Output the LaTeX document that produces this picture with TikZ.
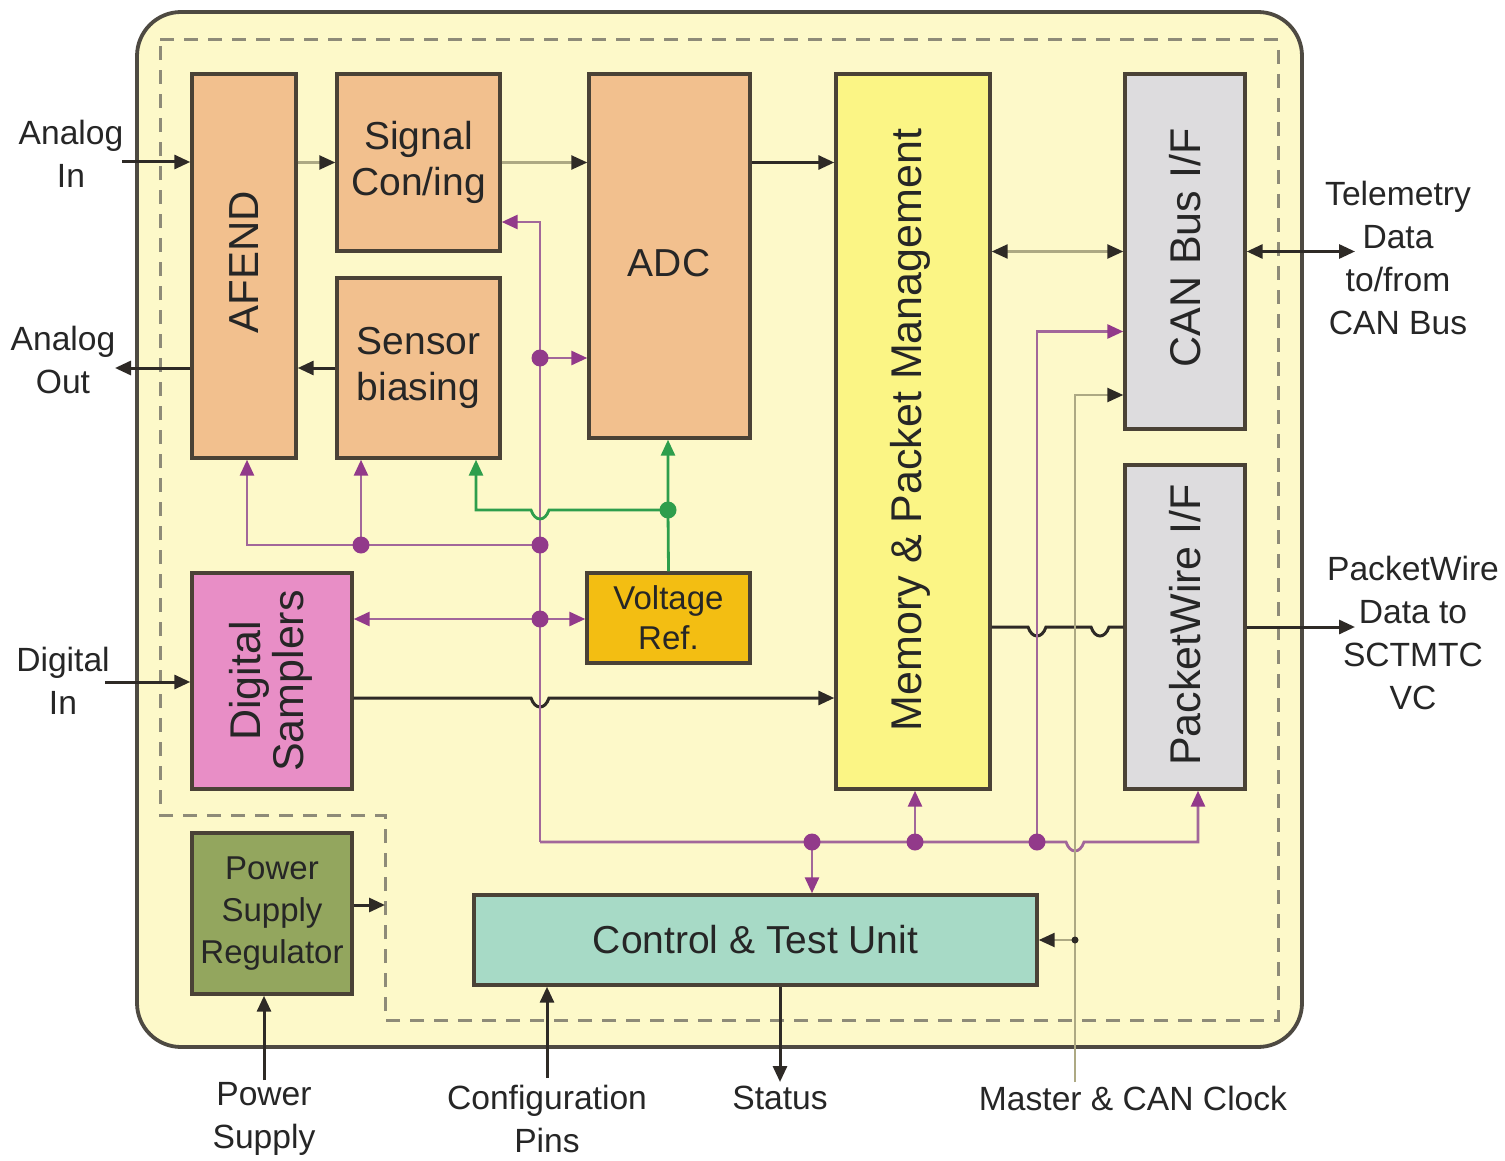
\documentclass[tikz,border=0pt]{standalone}
\usepackage{fontspec}
\setmainfont{Liberation Sans}
\usetikzlibrary{arrows.meta}
\definecolor{bgY}{HTML}{FDF9C9}
\definecolor{outln}{HTML}{4E4A42}
\definecolor{dashln}{HTML}{8E8B78}
\definecolor{boxln}{HTML}{4A4236}
\definecolor{peach}{HTML}{F2C08E}
\definecolor{memY}{HTML}{FBF585}
\definecolor{greyB}{HTML}{DDDCDE}
\definecolor{pinkB}{HTML}{E88EC6}
\definecolor{vrefO}{HTML}{F3BE12}
\definecolor{oliveB}{HTML}{93A65E}
\definecolor{mintB}{HTML}{A7DAC6}
\definecolor{txt}{HTML}{262626}
\definecolor{dkln}{HTML}{2E2A26}
\definecolor{olln}{HTML}{ADA983}
\definecolor{puln}{HTML}{A2679A}
\definecolor{puD}{HTML}{923A8A}
\definecolor{grn}{HTML}{2E9E4C}
\begin{document}
\begin{tikzpicture}[x=0.5pt,y=-0.5pt,
  box/.style={draw=boxln, line width=1.7pt, inner sep=0pt, align=center, text=txt,
    font=\fontsize{19.5pt}{23pt}\selectfont},
  rtxt/.style={rotate=90, text=txt, align=center, inner sep=0pt,
    font=\fontsize{21.5pt}{21.5pt}\selectfont},
  lab/.style={text=txt, align=center, inner sep=0pt, font=\fontsize{16.8pt}{21.5pt}\selectfont},
  dk/.style={draw=dkln, line width=1.5pt},
  ol/.style={draw=olln, line width=1.2pt},
  pu/.style={draw=puln, line width=1.4pt},
  gr/.style={draw=grn, line width=1.4pt},
  darr/.style={-{Triangle[length=8pt,width=7pt,color=dkln]}},
  ddarr/.style={{Triangle[length=8pt,width=7pt,color=dkln]}-{Triangle[length=8pt,width=7pt,color=dkln]}},
  parr/.style={-{Triangle[length=8pt,width=7pt,color=puD]}},
  garr/.style={-{Triangle[length=8pt,width=7pt,color=grn]}},
  pdot/.style={circle, fill=puD, inner sep=0pt, minimum size=8.5pt},
  gdot/.style={circle, fill=grn, inner sep=0pt, minimum size=8.5pt},
  kdot/.style={circle, fill=dkln, inner sep=0pt, minimum size=3.5pt}]
\useasboundingbox (0,0) rectangle (1505,1161);
\fill[white] (0,0) rectangle (1505,1161);
% chip outline
\draw[draw=outln, line width=1.9pt, fill=bgY, rounded corners=22pt] (137,12) rectangle (1302,1047);
\draw[dashln, line width=1.5pt, dash pattern=on 7pt off 5pt]
  (160,40) -- (1278,40) -- (1278,1020) -- (385,1020) -- (385,815) -- (160,815) -- cycle;
% boxes
\node[box, fill=peach, minimum width=52pt, minimum height=192pt] (afend) at (244,266) {};
\node[rtxt, font=\fontsize{21pt}{21pt}\selectfont] (tafend) at (244,262) {AFEND};
\node[box, fill=peach, minimum width=81.5pt, minimum height=88.5pt] (sig) at (418.5,162.5) {Signal\\Con/ing};
\node[box, fill=peach, minimum width=81.5pt, minimum height=90pt] (sen) at (418.5,368) {Sensor\\biasing};
\node[box, fill=peach, minimum width=80.5pt, minimum height=182pt] (adc) at (669.5,256) {};
\node[text=txt, inner sep=0pt, font=\fontsize{19.5pt}{23pt}\selectfont] (tadc) at (669,263) {ADC};
\node[box, fill=memY, minimum width=77pt, minimum height=357.5pt] (mem) at (913,431.5) {};
\node[rtxt] (tmem) at (910,430) {Memory \& Packet Management};
\node[box, fill=greyB, minimum width=60pt, minimum height=177.5pt] (can) at (1185,251.5) {};
\node[rtxt] (tcan) at (1185,248) {CAN Bus I/F};
\node[box, fill=greyB, minimum width=60pt, minimum height=162pt] (pw) at (1185,627) {};
\node[rtxt] (tpw) at (1185,625) {PacketWire I/F};
\node[box, fill=pinkB, minimum width=80pt, minimum height=108pt] (dig) at (272,681) {};
\node[rtxt] (tdig) at (271,681) {Digital\\Samplers};
\node[box, fill=vrefO, minimum width=81.5pt, minimum height=45pt,
  font=\fontsize{16.5pt}{20pt}\selectfont] (vref) at (668.5,618) {Voltage\\Ref.};
\node[box, fill=oliveB, minimum width=80pt, minimum height=80.5pt,
  font=\fontsize{16.5pt}{21pt}\selectfont] (psr) at (272,913.5) {Power\\Supply\\Regulator};
\node[box, fill=mintB, minimum width=281.5pt, minimum height=45pt] (ctu) at (755.5,940) {Control \& Test Unit};
% outside labels
\node[lab] (lai) at (71,154) {Analog\\In};
\node[lab] (lao) at (63,360) {Analog\\Out};
\node[lab] (ldi) at (63,681) {Digital\\In};
\node[lab] (ltel) at (1398,258) {Telemetry\\Data\\to/from\\CAN Bus};
\node[lab] (lpw) at (1413,633) {PacketWire\\Data to\\SCTMTC\\VC};
\node[lab] (lps) at (264,1119) {Power\\Supply};
\node[lab] (lcfg) at (547,1119) {Configuration\\Pins};
\node[lab] (lst) at (780,1098) {Status};
\node[lab] (lclk) at (1133,1098) {Master \& CAN Clock};
% coordinates
\coordinate (ai) at (122,162);
\coordinate (ao) at (115,368);
\coordinate (di) at (105,682);
\coordinate (tele) at (1355,251.5);
\coordinate (pwo) at (1355,627);
\coordinate (bt) at (540,222);
\coordinate (bb) at (540,842);
\coordinate (j1) at (540,358);
\coordinate (j2) at (540,545);
\coordinate (j3) at (540,619);
\coordinate (j4) at (361,545);
\coordinate (ja) at (247,545);
\coordinate (g) at (668,510);
\coordinate (gs) at (476,510);
\coordinate (k1) at (812,842);
\coordinate (k2) at (915,842);
\coordinate (k3) at (1037,842);
\coordinate (c3) at ([yshift=-40pt]can.west);
\coordinate (pwb) at ([xshift=6.5pt]pw.south);
\coordinate (clk0) at (1075,1082);
\coordinate (clkd) at (1075,940);
\coordinate (clkt) at (1075,395);
\coordinate (psin) at (264,1080);
\coordinate (psout) at (385,905);
\coordinate (cfg) at (547,1078);
\coordinate (st) at (780,1082);
% signal path connectors
\draw[dk, darr] (ai) -- (ai -| afend.west);
\draw[dk, darr] (sen.west -| afend.west) -- (ao);
\draw[dk, darr] (di) -- (di -| dig.west);
\draw[ol, darr] (sig.west -| afend.east) -- (sig.west);
\draw[ol, darr] (sig.east) -- (sig.east -| adc.west);
\draw[dk, darr] (sig.east -| adc.east) -- (sig.east -| mem.west);
\draw[dk, darr] (sen.west) -- (sen.west -| afend.east);
\draw[ol, ddarr] (can.west -| mem.east) -- (can.west);
\draw[dk, ddarr] (can.east) -- (tele);
\draw[dk, darr] (pw.east) -- (pwo);
\draw[dk] (pw.west -| mem.east) -- (1028,627) .. controls (1032,639) and (1042,639) .. (1046,627)
  -- (1091,627) .. controls (1095,639) and (1105,639) .. (1109,627) -- (pw.west);
\draw[dk, darr] ([yshift=-8.5pt]dig.east) -- (531,698) .. controls (535,710) and (545,710) .. (549,698)
  -- ([yshift=-8.5pt]dig.east -| mem.west);
% purple control bus
\draw[pu, parr] (bb) -- (bt) -- (bt -| sig.east);
\draw[pu, parr] (bb) -- (1066,842) .. controls (1070,854) and (1080,854) .. (1084,842) -- (pwb |- bb) -- (pwb);
\draw[pu, parr] (j1) -- (j1 -| adc.west);
\draw[pu, parr] (j2) -- (ja) -- (ja |- afend.south);
\draw[pu, parr] (j4) -- (j4 |- sen.south);
\draw[pu, parr] (j3) -- (j3 -| dig.east);
\draw[pu, parr] (j3) -- (j3 -| vref.west);
\draw[pu, parr] (k1) -- (k1 |- ctu.north);
\draw[pu, parr] (k2) -- (k2 |- mem.south);
\draw[pu, parr] (k3) -- (k3 |- c3) -- (c3);
% green reference
\draw[gr, garr] (vref.north) -- (g) -- (g |- adc.south);
\draw[gr, garr] (g) -- (549,510) .. controls (545,522) and (535,522) .. (531,510) -- (gs) -- (gs |- sen.south);
% clock
\draw[ol, darr] (clk0) -- (clkt) -- (clkt -| can.west);
\draw[ol, darr] (clkd) -- (ctu.east);
% outside bottom
\draw[dk, darr] (psin) -- (psin |- psr.south);
\draw[dk, darr] ([yshift=4.25pt]psr.east) -- (psout);
\draw[dk, darr] (cfg) -- (cfg |- ctu.south);
\draw[dk, darr] (st |- ctu.south) -- (st);
% dots
\node[pdot] (dj1) at (j1) {};
\node[pdot] (dj2) at (j2) {};
\node[pdot] (dj3) at (j3) {};
\node[pdot] (dj4) at (j4) {};
\node[pdot] (dk1) at (k1) {};
\node[pdot] (dk2) at (k2) {};
\node[pdot] (dk3) at (k3) {};
\node[gdot] (dg) at (g) {};
\node[kdot] (dclk) at (clkd) {};
\end{tikzpicture}
\end{document}
